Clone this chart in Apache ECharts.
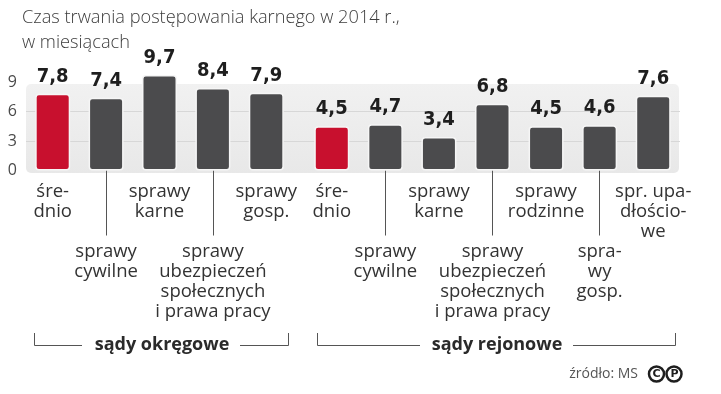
<!DOCTYPE html>
<html>
<head>
<meta charset="utf-8">
<script src="https://cdn.jsdelivr.net/npm/echarts@6/dist/echarts.min.js"></script>
<style>
html,body{margin:0;padding:0;background:#fff;}
#chart{width:721px;height:394px;}
</style>
</head>
<body>
<div id="chart"></div>
<script>
const titleText = 'Czas trwania postępowania karnego w 2014 r.,\nw miesiącach';
const categoriesOkregowe = ['śre-\ndnio', 'sprawy\ncywilne', 'sprawy\nkarne', 'sprawy\nubezpieczeń\nspołecznych\ni prawa pracy', 'sprawy\ngosp.'];
const valuesOkregowe = [7.8, 7.4, 9.7, 8.4, 7.9];
const categoriesRejonowe = ['śre-\ndnio', 'sprawy\ncywilne', 'sprawy\nkarne', 'sprawy\nubezpieczeń\nspołecznych\ni prawa pracy', 'sprawy\nrodzinne', 'spra-\nwy\ngosp.', 'spr. upa-\ndłościo-\nwe'];
const valuesRejonowe = [4.5, 4.7, 3.4, 6.8, 4.5, 4.6, 7.6];
const yTicks = [0, 3, 6, 9];
const groupLabels = ['sądy okręgowe', 'sądy rejonowe'];
const sourceText = 'źródło: MS';

const RED = '#c8102e', GRAY = '#4b4b4d';
const labelFont = 'Open Sans';

function catAxis(gridIndex, cats) {
  return {
    gridIndex: gridIndex, type: 'category', data: cats,
    axisLine: {show: false},
    axisTick: {show: true, alignWithLabel: true, length: 65,
      interval: function (i) { return i % 2 === 1; },
      lineStyle: {color: '#555', width: 1}},
    axisLabel: {interval: 0, margin: 11, color: '#333', fontFamily: labelFont,
      fontSize: 18.5, lineHeight: 20, align: 'center',
      formatter: function (v, i) { return (i % 2 === 1 ? '\n\n\n' : '') + v; }}
  };
}
function barSeries(idx, values) {
  return {
    type: 'bar', xAxisIndex: idx, yAxisIndex: idx, data: values, barWidth: 35, clip: false,
    itemStyle: {
      color: function (p) { return p.dataIndex === 0 ? RED : GRAY; },
      borderColor: '#f6f6f6', borderWidth: 1.5, borderRadius: 3
    },
    label: {show: true, position: 'top', distance: 7, color: '#1e1e1e',
      fontFamily: 'DejaVu Sans Condensed', fontWeight: 'bold', fontSize: 20,
      formatter: function (p) { return p.value.toFixed(1).replace('.', ','); }}
  };
}

const chart = echarts.init(document.getElementById('chart'));
chart.setOption({
  animation: false,
  backgroundColor: '#fff',
  title: {text: titleText, left: 22, top: 5, padding: 0,
    textStyle: {fontFamily: labelFont, fontWeight: 300, fontSize: 18.2, lineHeight: 25, color: '#3c3c3c'}},
  grid: [
    {left: 26, top: 82, width: 654, height: 88.5},
    {left: 26, top: 82, width: 267, height: 88.5},
    {left: 305, top: 82, width: 375, height: 88.5}
  ],
  xAxis: [
    {gridIndex: 0, type: 'category', data: [''], show: false},
    catAxis(1, categoriesOkregowe),
    catAxis(2, categoriesRejonowe)
  ],
  yAxis: [
    {gridIndex: 0, type: 'value', min: yTicks[0], max: yTicks[yTicks.length - 1], interval: yTicks[1] - yTicks[0],
      axisLine: {show: false}, axisTick: {show: false},
      axisLabel: {margin: 9, color: '#4a4a4a', fontFamily: labelFont, fontSize: 16},
      splitLine: {show: true, lineStyle: {color: ['rgba(0,0,0,0)', '#d7d7d7', '#d7d7d7', 'rgba(0,0,0,0)']}}},
    {gridIndex: 1, type: 'value', min: 0, max: 9, interval: 3, show: false},
    {gridIndex: 2, type: 'value', min: 0, max: 9, interval: 3, show: false}
  ],
  series: [barSeries(1, valuesOkregowe), barSeries(2, valuesRejonowe)],
  graphic: [
    {type: 'rect', z: -10, shape: {x: 26, y: 84, width: 653, height: 89, r: 5},
      style: {fill: new echarts.graphic.LinearGradient(0, 0, 0, 1, [{offset: 0, color: '#f1f1f1'}, {offset: 1, color: '#e8e8e8'}])}},
    {type: 'polyline', shape: {points: [[34.5, 333], [34.5, 345.5], [82, 345.5]]}, style: {stroke: '#555', lineWidth: 1, fill: null}},
    {type: 'polyline', shape: {points: [[240, 345.5], [288.5, 345.5], [288.5, 333]]}, style: {stroke: '#555', lineWidth: 1, fill: null}},
    {type: 'text', x: 162, y: 345, style: {text: groupLabels[0], align: 'center', verticalAlign: 'middle',
      font: 'bold 18px "Open Sans"', fill: '#2a2a2a'}},
    {type: 'polyline', shape: {points: [[317.5, 333], [317.5, 345.5], [420, 345.5]]}, style: {stroke: '#555', lineWidth: 1, fill: null}},
    {type: 'polyline', shape: {points: [[573, 345.5], [675.5, 345.5], [675.5, 333]]}, style: {stroke: '#555', lineWidth: 1, fill: null}},
    {type: 'text', x: 497, y: 345, style: {text: groupLabels[1], align: 'center', verticalAlign: 'middle',
      font: 'bold 18px "Open Sans"', fill: '#2a2a2a'}},
    {type: 'text', x: 638, y: 374, style: {text: sourceText, align: 'right', verticalAlign: 'middle',
      font: '14px "Open Sans"', fill: '#555'}},
    {type: 'circle', shape: {cx: 656.5, cy: 374, r: 7.5}, style: {stroke: '#1e1e1e', lineWidth: 2.5, fill: '#fff'}},
    {type: 'text', x: 656.5, y: 374.5, style: {text: 'C', align: 'center', verticalAlign: 'middle', font: 'bold 11px "DejaVu Sans"', fill: '#1e1e1e'}},
    {type: 'circle', shape: {cx: 674, cy: 374, r: 7.5}, style: {stroke: '#1e1e1e', lineWidth: 2.5, fill: '#fff'}},
    {type: 'text', x: 674.5, y: 374.5, style: {text: 'P', align: 'center', verticalAlign: 'middle', font: 'bold 11px "DejaVu Sans"', fill: '#1e1e1e'}}
  ]
});
</script>
</body>
</html>
